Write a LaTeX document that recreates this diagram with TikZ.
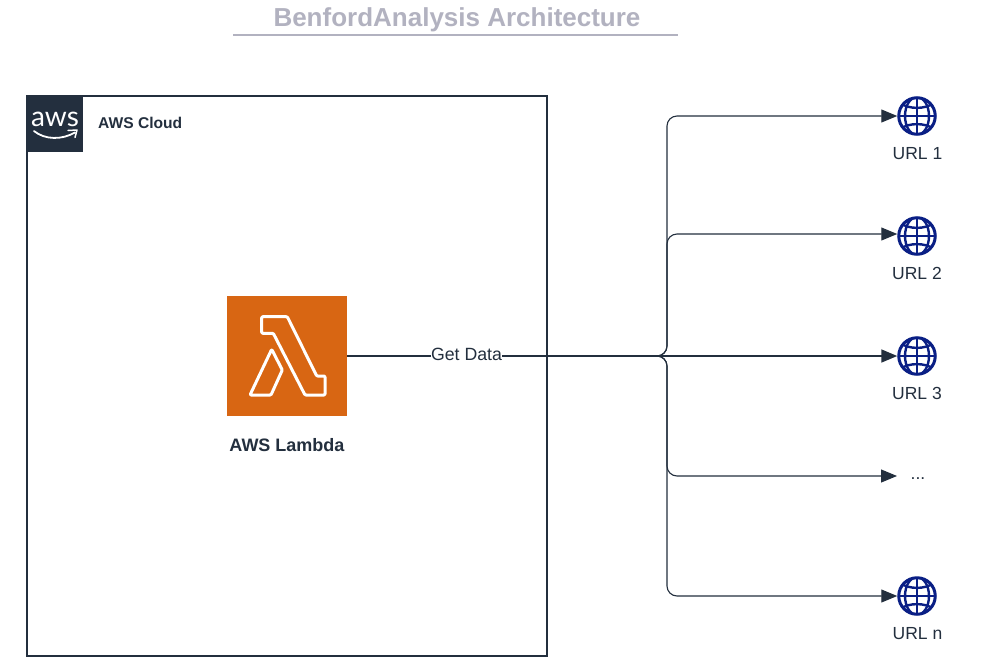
\documentclass[tikz,border=0pt]{standalone}
\usepackage{fontspec}
\setmainfont{Liberation Sans}
\newfontfamily\awsfont{Lato}
\usetikzlibrary{arrows.meta,calc}
\definecolor{inkdark}{HTML}{232F3E}
\definecolor{titlegrey}{HTML}{B2B2C0}
\definecolor{lamorange}{HTML}{D86613}
\definecolor{globeblue}{HTML}{0A1F85}
\tikzset{
  px/.style={x=1pt,y=-1pt},
  framebox/.style={draw=inkdark,line width=2pt,fill=white,minimum width=520pt,minimum height=560pt,inner sep=0pt},
  awsbox/.style={fill=inkdark,minimum size=56pt,inner sep=0pt},
  lambox/.style={fill=lamorange,minimum size=120pt,inner sep=0pt},
  lamstroke/.style={draw=white,line width=3pt,line join=round,rounded corners=1pt},
  conn/.style={draw=inkdark,line width=1.1pt,rounded corners=10pt,-{Triangle[length=16pt,width=13pt]}},
  connhead/.style={draw=inkdark,line width=1.7pt,-{Triangle[length=16pt,width=13pt]}},
  globe/.style={circle,draw=globeblue,line width=3pt,minimum size=36.5pt,inner sep=0pt,outer sep=1.5pt,
    path picture={
      \draw[globeblue,line width=2.4pt]
        (path picture bounding box.north) -- (path picture bounding box.south)
        (path picture bounding box.west) -- (path picture bounding box.east);
      \draw[globeblue,line width=2.4pt] (path picture bounding box.center) ellipse [x radius=12pt,y radius=19pt];
      \draw[globeblue,line width=2.4pt]
        ($(path picture bounding box.center)+(-17pt,13pt)$) .. controls +(9pt,-6.5pt) and +(-9pt,-6.5pt) .. +(34pt,0pt)
        ($(path picture bounding box.center)+(-17pt,-13pt)$) .. controls +(9pt,6.5pt) and +(-9pt,6.5pt) .. +(34pt,0pt);
    }},
  urllabel/.style={text=inkdark,font=\fontsize{17.5}{20}\selectfont,inner sep=0pt},
  boldlabel/.style={text=inkdark,inner sep=0pt},
}
\begin{document}
\begin{tikzpicture}[px]
\useasboundingbox (0,0) rectangle (1005,665);
\fill[white] (0,0) rectangle (1005,665);

% title
\node[text=titlegrey,font=\bfseries\fontsize{26}{30}\selectfont,inner sep=0pt] (title) at (457,19.5) {BenfordAnalysis Architecture};
\coordinate (tl) at (233,35);
\coordinate (tr) at (678,35);
\draw[titlegrey,line width=1.6pt] (tl) -- (tr);

% frame
\node[framebox] (cloud) at (287,376) {};
\node[awsbox] (awslogo) at (55,124) {};
\node[text=white,font=\awsfont\fontsize{28}{30}\selectfont,inner sep=0pt] (awsword) at (55,119) {aws};
\draw[white,line width=1.8pt,line cap=round] (34,131) .. controls (45,140) and (62,140) .. (75,132.5);
\draw[white,line width=1.5pt,line cap=round,line join=round] (68,130.5) -- (77,130) -- (75,137.5);
\node[boldlabel,font=\bfseries\fontsize{15.6}{18}\selectfont,anchor=west] (cloudlabel) at (98,122.7) {AWS Cloud};

% lambda
\node[lambox] (lam) at (287,356) {};
\draw[lamstroke] (261.7,316.7) -- (287.3,316.7) -- (316.7,376) -- (325,376) -- (325,395) -- (305,395) -- (273.3,333.3) -- (261.7,333.3) -- cycle;
\draw[lamstroke] (271.7,349.3) -- (282.3,370) -- (271,395) -- (250,395) -- cycle;
\node[boldlabel,font=\bfseries\fontsize{18}{20}\selectfont] (lamlabel) at (287,445.3) {AWS Lambda};

% globes
\node[globe] (g1) at (917,116) {};
\node[globe] (g2) at (917,236) {};
\node[globe] (g3) at (917,356) {};
\node[globe] (g5) at (917,596) {};
\coordinate (dotsin) at (897,476);
\node[urllabel] (u1) at (917.5,153.5) {URL 1};
\node[urllabel] (u2) at (917,273.5) {URL 2};
\node[urllabel] (u3) at (917,393.5) {URL 3};
\node[urllabel] (u4) at (918,479) {...};
\node[urllabel] (u5) at (917.5,633.5) {URL n};

% connectors
\coordinate (bend) at (667,356);
\draw[conn] (lam.east) -- (bend) -- (bend |- g1) -- (g1.west);
\draw[conn] (lam.east) -- (bend) -- ([yshift=2pt]bend |- g2) -- ([yshift=2pt]g2.west);
\draw[conn] (lam.east) -- (bend) -- (bend |- dotsin) -- (dotsin);
\draw[conn] (lam.east) -- (bend) -- (bend |- g5) -- (g5.west);
\draw[connhead] (lam.east) -- (g3.west);

\node[text=inkdark,fill=white,font=\fontsize{17.7}{20}\selectfont,inner sep=0pt,minimum height=14pt] (getdata) at (466.5,354.5) {Get Data};
\end{tikzpicture}
\end{document}
